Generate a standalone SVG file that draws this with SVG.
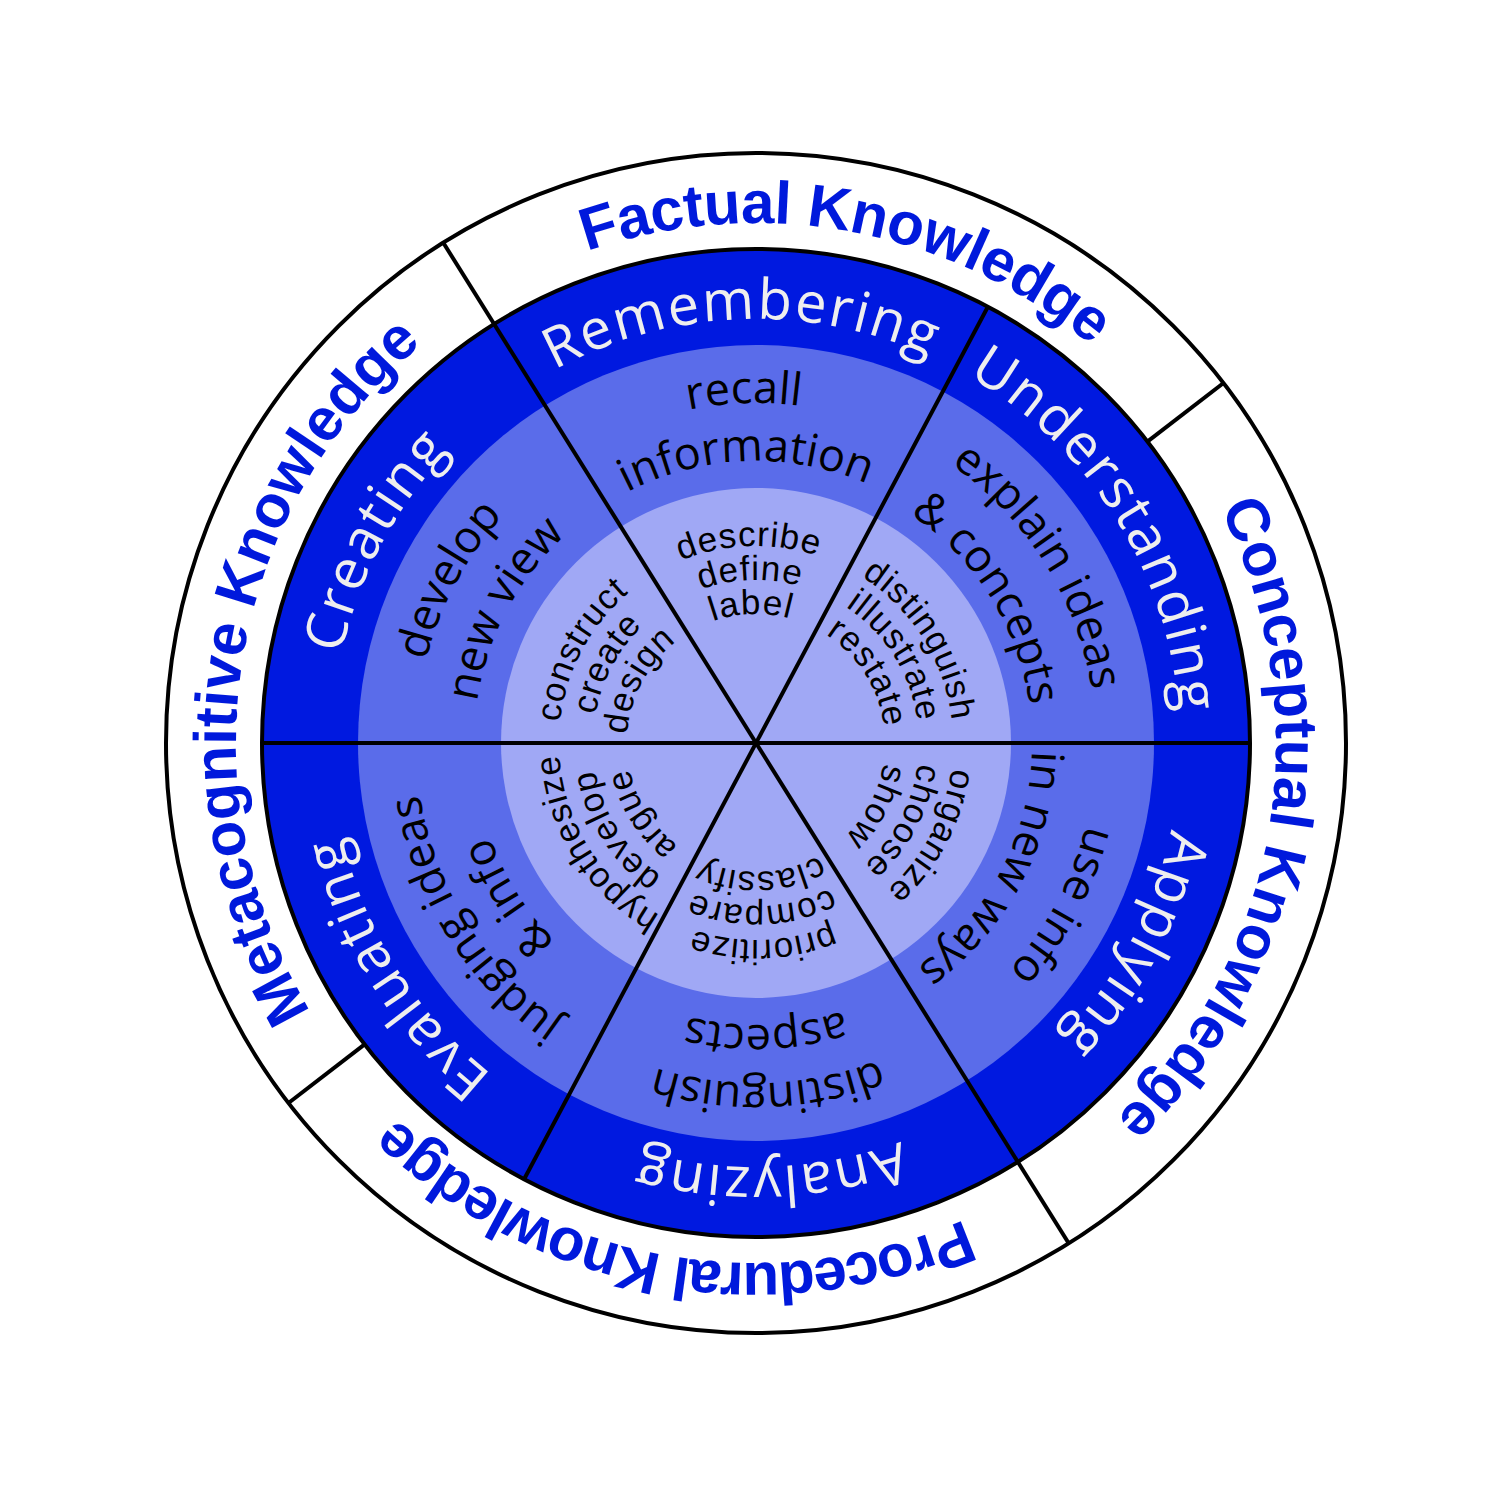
<svg xmlns="http://www.w3.org/2000/svg" width="1500" height="1500" viewBox="0 0 1500 1500">
<style>
.outer{font-family:"Liberation Sans",Arial,sans-serif;font-weight:700;font-size:60px;fill:#0019DC;text-anchor:middle}
.level{font-family:"Open Sans",sans-serif;font-size:56px;fill:#EEEEEE;text-anchor:middle;letter-spacing:2px}
.mid{font-family:"Open Sans",sans-serif;font-size:45px;fill:#000;text-anchor:middle}
.inner{font-family:"Liberation Sans",Arial,sans-serif;font-size:35px;fill:#000;text-anchor:middle;letter-spacing:1px}
.div{stroke:#000;stroke-width:4;fill:none;stroke-linecap:butt}
</style>
<defs>
<path id="p520" d="M236,743 A520,520 0 0 1 1276,743"/>
<path id="p424" d="M332,743 A424,424 0 0 1 1180,743"/>
<path id="p340" d="M416,743 A340,340 0 0 1 1096,743"/>
<path id="p282" d="M474,743 A282,282 0 0 1 1038,743"/>
<path id="p276" d="M480,743 A276,276 0 0 1 1032,743"/>
<path id="p197" d="M559,743 A197,197 0 0 1 953,743"/>
<path id="p163" d="M593,743 A163,163 0 0 1 919,743"/>
<path id="p129" d="M627,743 A129,129 0 0 1 885,743"/>
</defs>
<rect width="1500" height="1500" fill="#fff"/>
<g id="wheel">
<circle cx="756" cy="743" r="590" fill="#fff" stroke="#000" stroke-width="4"/>
<circle cx="756" cy="743" r="494" fill="#0019E0" stroke="#000" stroke-width="4"/>
<circle cx="756" cy="743" r="398" fill="#5A6CEA"/>
<circle cx="756" cy="743" r="255" fill="#A0A8F5"/>
</g>
<g id="connectors">
<line class="div" x1="262" y1="743" x2="1250" y2="743"/>
<line class="div" x1="443.3" y1="242.7" x2="1068.7" y2="1243.3"/>
<line class="div" x1="987.9" y1="306.8" x2="524.1" y2="1179.2"/>
<line class="div" x1="1147.4" y1="441.6" x2="1223.5" y2="383.0"/>
<line class="div" x1="364.6" y1="1044.4" x2="288.5" y2="1103.0"/>
</g>
<g id="factual"><text class="outer" style="letter-spacing:-0.6px" transform="rotate(10.6 756 743)"><textPath href="#p520" startOffset="50%">Factual Knowledge</textPath></text></g>
<g id="metacognitive"><text class="outer" transform="rotate(-80.5 756 743)"><textPath href="#p520" startOffset="50%">Metacognitive Knowledge</textPath></text></g>
<g id="procedural"><text class="outer" style="letter-spacing:-2px" transform="rotate(-170 756 743)"><textPath href="#p520" startOffset="50%">Procedural Knowledge</textPath></text></g>
<g id="conceptual"><text class="outer" transform="rotate(99.7 756 743)"><textPath href="#p520" startOffset="50%">Conceptual Knowledge</textPath></text></g>

<g id="remembering" transform="rotate(-2 756 743)">
<text class="level"><textPath href="#p424" startOffset="50%">Remembering</textPath></text>
<text class="mid"><textPath href="#p340" startOffset="50%">recall</textPath></text>
<text class="mid"><textPath href="#p282" startOffset="50%">information</textPath></text>
<text class="inner"><textPath href="#p197" startOffset="50%">describe</textPath></text>
<text class="inner"><textPath href="#p163" startOffset="50%">define</textPath></text>
<text class="inner"><textPath href="#p129" startOffset="50%">label</textPath></text>
</g>
<g id="understanding" transform="rotate(58 756 743)">
<text class="level"><textPath href="#p424" startOffset="50%">Understanding</textPath></text>
<text class="mid"><textPath href="#p340" startOffset="50%">explain ideas</textPath></text>
<text class="mid"><textPath href="#p276" startOffset="50%">&amp; concepts</textPath></text>
<text class="inner"><textPath href="#p197" startOffset="50%">distinguish</textPath></text>
<text class="inner"><textPath href="#p163" startOffset="50%">illustrate</textPath></text>
<text class="inner"><textPath href="#p129" startOffset="50%">restate</textPath></text>
</g>
<g id="applying" transform="rotate(-242 756 743)">
<text class="level"><textPath href="#p424" startOffset="50%">Applying</textPath></text>
<text class="mid"><textPath href="#p340" startOffset="50%">use info</textPath></text>
<text class="mid"><textPath href="#p276" startOffset="50%">in new ways</textPath></text>
<text class="inner"><textPath href="#p197" startOffset="50%">organize</textPath></text>
<text class="inner"><textPath href="#p163" startOffset="50%">choose</textPath></text>
<text class="inner"><textPath href="#p129" startOffset="50%">show</textPath></text>
</g>
<g id="analyzing" transform="rotate(-182 756 743)">
<text class="level"><textPath href="#p424" startOffset="50%">Analyzing</textPath></text>
<text class="mid"><textPath href="#p340" startOffset="50%">distinguish</textPath></text>
<text class="mid"><textPath href="#p282" startOffset="50%">aspects</textPath></text>
<text class="inner"><textPath href="#p197" startOffset="50%">prioritize</textPath></text>
<text class="inner"><textPath href="#p163" startOffset="50%">compare</textPath></text>
<text class="inner"><textPath href="#p129" startOffset="50%">classify</textPath></text>
</g>
<g id="evaluating" transform="rotate(-122 756 743)">
<text class="level"><textPath href="#p424" startOffset="50%">Evaluating</textPath></text>
<text class="mid"><textPath href="#p340" startOffset="50%">judging ideas</textPath></text>
<text class="mid"><textPath href="#p282" startOffset="50%">&amp; info</textPath></text>
<text class="inner"><textPath href="#p197" startOffset="50%">hypothesize</textPath></text>
<text class="inner"><textPath href="#p163" startOffset="50%">develop</textPath></text>
<text class="inner"><textPath href="#p129" startOffset="50%">argue</textPath></text>
</g>
<g id="creating" transform="rotate(-62 756 743)">
<text class="level"><textPath href="#p424" startOffset="50%">Creating</textPath></text>
<text class="mid"><textPath href="#p340" startOffset="50%">develop</textPath></text>
<text class="mid"><textPath href="#p282" startOffset="50%">new view</textPath></text>
<text class="inner"><textPath href="#p197" startOffset="50%">construct</textPath></text>
<text class="inner"><textPath href="#p163" startOffset="50%">create</textPath></text>
<text class="inner"><textPath href="#p129" startOffset="50%">design</textPath></text>
</g>
</svg>
